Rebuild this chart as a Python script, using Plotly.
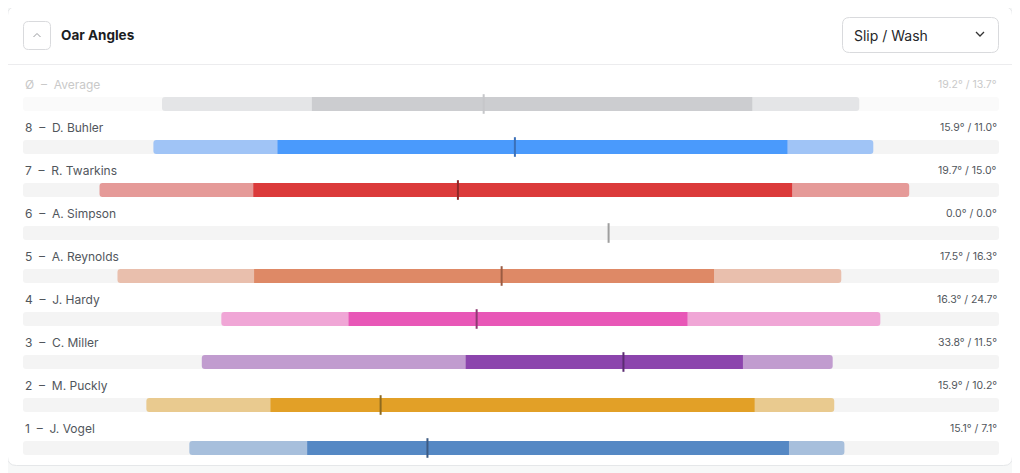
import plotly.graph_objects as go

# rows, top to bottom
seats = ["Ø", "8", "7", "6", "5", "4", "3", "2", "1"]
names = ["Average", "D. Buhler", "R. Twarkins", "A. Simpson", "A. Reynolds",
         "J. Hardy", "C. Miller", "M. Puckly", "J. Vogel"]
# oar angles in degrees (catch negative, finish positive)
catch_angle = [-57.2, -58.3, -65.2, 0.0, -62.9, -49.6, -52.1, -59.2, -53.7]
finish_angle = [32.1, 33.9, 38.5, 0.0, 29.8, 34.8, 28.7, 28.9, 30.2]
slip = [19.2, 15.9, 19.7, 0.0, 17.5, 16.3, 33.8, 15.9, 15.1]
wash = [13.7, 11.0, 15.0, 0.0, 16.3, 24.7, 11.5, 10.2, 7.1]
peak_angle = [-16.0, -12.0, -19.3, 0.0, -13.7, -16.9, 1.9, -29.2, -23.2]
axis_min, axis_max = -75, 50

# colours per row
light_colors = ["#e4e5e7", "#a0c4f6", "#e59a98", "#f4f4f4", "#e9bfad",
                "#f0a6d6", "#c19ccf", "#e9ca8f", "#a7bfdc"]
dark_colors = ["#cccdd0", "#4a9afc", "#db3a3a", "#f4f4f4", "#de8966",
               "#e857b7", "#8c45ad", "#e2a027", "#5588c4"]
tick_colors = ["#c6c7ca", "#3b70b8", "#8e2626", "#9e9e9e", "#9a5b42",
               "#8e3a72", "#5b2c72", "#8e6a1f", "#3c5a82"]
track_colors = ["#fafafa"] + ["#f4f4f4"] * 8
text_colors = ["#c9c9c9"] + ["#51565c"] * 8

# the page puts the plot 8px in from the top-left corner, so the figure is
# that much smaller and every pixel position below is shifted back by it
OFF = 8
W, H = 1020 - OFF, 473 - OFF
PITCH, FIRST, BAR_H = 43, 104 - OFF, 14
FONT = "Inter, Noto Sans, sans-serif"


def px(x):
    return (x - OFF) / W


def py(y):
    return 1 - (y - OFF) / H


def round_rect(x0, y0, x1, y1, r):
    rx, ry = r / W, r / H
    a, b, c, d = px(x0), py(y0), px(x1), py(y1)
    return (f"M {a + rx},{b} L {c - rx},{b} Q {c},{b} {c},{b - ry} "
            f"L {c},{d + ry} Q {c},{d} {c - rx},{d} L {a + rx},{d} "
            f"Q {a},{d} {a},{d + ry} L {a},{b - ry} Q {a},{b} {a + rx},{b} Z")


rows = list(range(len(names)))
bw = BAR_H / PITCH

fig = go.Figure()
fig.add_trace(go.Bar(
    y=rows, x=[axis_max - axis_min] * len(rows), base=[axis_min] * len(rows),
    orientation="h", width=bw, marker=dict(color=track_colors, cornerradius=3, line_width=0),
    hoverinfo="skip"))
fig.add_trace(go.Bar(
    y=rows, x=[f - c for c, f in zip(catch_angle, finish_angle)], base=catch_angle,
    orientation="h", width=bw, marker=dict(color=light_colors, cornerradius=3, line_width=0),
    hoverinfo="skip"))
fig.add_trace(go.Bar(
    y=rows,
    x=[(f - w) - (c + s) for c, f, s, w in zip(catch_angle, finish_angle, slip, wash)],
    base=[c + s for c, s in zip(catch_angle, slip)],
    orientation="h", width=bw, marker=dict(color=dark_colors, line_width=0),
    hoverinfo="skip"))
fig.add_trace(go.Scatter(
    y=rows, x=peak_angle, mode="markers", hoverinfo="skip",
    marker=dict(symbol="line-ns", size=BAR_H, line=dict(width=2, color=tick_colors))))

for i in rows:
    fig.add_annotation(x=px(23), xref="paper", y=i, yref="y", yshift=20,
                       text=f"{seats[i]}\u00a0\u00a0–\u00a0\u00a0{names[i]}",
                       showarrow=False, xanchor="left", yanchor="middle",
                       font=dict(family=FONT, size=12, color=text_colors[i]))
    fig.add_annotation(x=px(999), xref="paper", y=i, yref="y", yshift=20,
                       text=f"{slip[i]:.1f}° / {wash[i]:.1f}°",
                       showarrow=False, xanchor="right", yanchor="middle",
                       font=dict(family=FONT, size=10.5, color=text_colors[i]))

shapes = [
    # card
    dict(type="path", xref="paper", yref="paper", path=round_rect(7.5, 6.5, 1012.5, 465.5, 9),
         fillcolor="white", line=dict(color="#e5e7e9", width=1), layer="below"),
    # header divider
    dict(type="line", xref="paper", yref="paper", x0=px(7.5), x1=px(1012.5), y0=py(64.5), y1=py(64.5),
         line=dict(color="#ececee", width=1), layer="below"),
    # collapse button
    dict(type="path", xref="paper", yref="paper", path=round_rect(23.5, 21.5, 50.5, 49.5, 5),
         fillcolor="white", line=dict(color="#d9dadd", width=1), layer="below"),
    dict(type="path", xref="paper", yref="paper",
         path=f"M {px(33.5)},{py(37)} L {px(37)},{py(33.5)} L {px(40.5)},{py(37)}",
         line=dict(color="#9a9ca0", width=1)),
    # dropdown
    dict(type="path", xref="paper", yref="paper", path=round_rect(842.5, 17.5, 998.5, 52.5, 7),
         fillcolor="white", line=dict(color="#d9dadd", width=1), layer="below"),
    dict(type="path", xref="paper", yref="paper",
         path=f"M {px(976)},{py(32)} L {px(980)},{py(36)} L {px(984)},{py(32)}",
         line=dict(color="#333333", width=1.3)),
]

fig.add_annotation(x=px(59), xref="paper", y=py(35), yref="paper", text="<b>Oar Angles</b>",
                   showarrow=False, xanchor="left", yanchor="middle",
                   font=dict(family=FONT, size=13.5, color="#1b1d1f"))
fig.add_annotation(x=px(852), xref="paper", y=py(35), yref="paper", text="Slip / Wash",
                   showarrow=False, xanchor="left", yanchor="middle",
                   font=dict(family=FONT, size=14, color="#25272a"))

fig.update_layout(
    width=W, height=H, margin=dict(l=0, r=0, t=0, b=0),
    paper_bgcolor="#f7f8f8", plot_bgcolor="rgba(0,0,0,0)",
    barmode="overlay", showlegend=False, shapes=shapes,
    xaxis=dict(domain=[px(23), px(999)], range=[axis_min, axis_max], visible=False, fixedrange=True),
    yaxis=dict(domain=[0, 1], range=[(H - FIRST) / PITCH, -FIRST / PITCH], visible=False, fixedrange=True),
)

fig.write_html("out.html")
